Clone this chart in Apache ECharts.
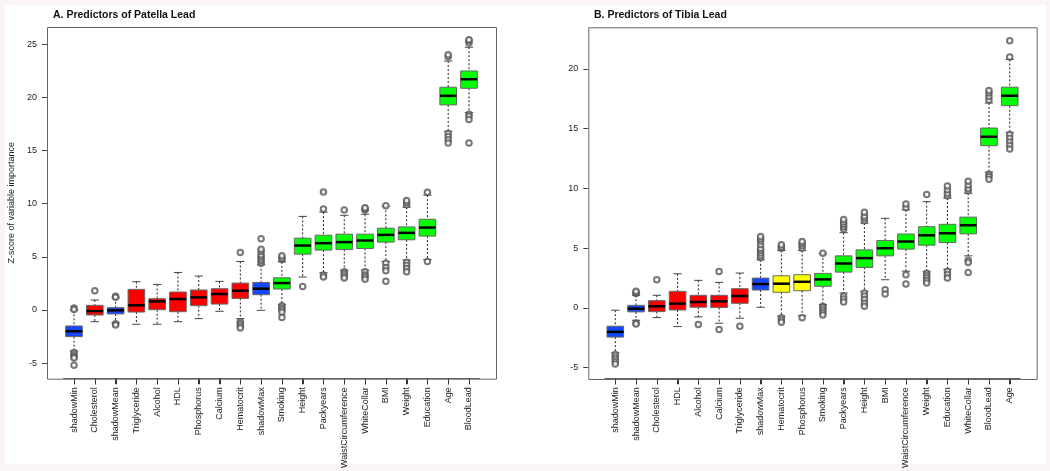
<!DOCTYPE html>
<html><head><meta charset="utf-8">
<script src="https://cdn.jsdelivr.net/npm/echarts@6/dist/echarts.min.js"></script>
<style>
html,body{margin:0;padding:0;background:#fbf4f4;width:1050px;height:471px;overflow:hidden}
#paper{position:absolute;left:5px;top:5px;width:1041px;height:459px;background:#fff}
#chart{position:absolute;left:0;top:0;width:1050px;height:471px}
</style></head>
<body><div id="paper"></div><div id="chart"></div>
<script>
// ---------- Panel A: Patella lead ----------
const catsA = ['shadowMin','Cholesterol','shadowMean','Triglyceride','Alcohol','HDL','Phosphorus','Calcium','Hematocrit','shadowMax','Smoking','Height','Packyears','WaistCircumference','WhiteCollar','BMI','Weight','Education','Age','BloodLead'];
const statusA = ['S','R','S','R','R','R','R','R','R','S','C','C','C','C','C','C','C','C','C','C'];
const lowA  = [-3.85,-1.1,-1.2,-1.34,-1.34,-1.1,-0.81,-0.12,-0.81,-0.03,0.53,3.1,3.5,3.75,3.75,4.56,4.7,4.75,16.8,18.56];
const q1A   = [-2.5,-0.47,-0.37,-0.19,0.03,-0.16,0.41,0.56,1.09,1.44,1.97,5.25,5.63,5.69,5.78,6.38,6.6,6.95,19.28,20.84];
const medA  = [-2.0,-0.1,-0.03,0.44,0.81,1.03,1.19,1.5,1.81,2.0,2.53,6.06,6.28,6.38,6.53,7.06,7.25,7.75,20.13,21.69];
const q3A   = [-1.5,0.44,0.22,1.94,1.06,1.69,1.88,2.0,2.53,2.59,3.03,6.75,7.03,7.13,7.13,7.69,7.81,8.53,20.94,22.47];
const highA = [-0.03,0.94,1.15,2.66,2.4,3.53,3.19,2.69,4.56,4.25,4.53,8.8,9.2,8.9,9.0,9.75,9.66,10.8,23.4,24.7];
const outA = [
  [0.2,0.05,-4.0,-4.2,-4.4,-4.5,-5.2],
  [1.8],
  [1.3,1.2,-1.3,-1.4],
  [],[],[],[],[],
  [5.4,-1.1,-1.3,-1.5,-1.7],
  [4.4,4.6,4.8,5.0,5.2,5.5,5.7,6.7],
  [4.75,4.9,5.1,0.4,0.2,0.0,-0.2,-0.7],
  [2.2],
  [9.5,11.1,3.3,3.1],
  [9.4,3.6,3.4,3.2,3.0],
  [9.4,9.5,9.6,3.6,3.3,3.1,2.9],
  [9.8,4.4,4.0,3.7,2.7],
  [9.9,10.1,10.3,4.5,4.2,3.9,3.6],
  [11.06,4.56],
  [23.8,24.0,16.6,16.3,16.0,15.7],
  [25.1,25.3,25.4,18.4,18.2,17.9,15.7]
];
const ticksA = [-5,0,5,10,15,20,25];
const rangeA = [-6.42, 26.6];

// ---------- Panel B: Tibia lead ----------
const catsB = ['shadowMin','shadowMean','Cholesterol','HDL','Alcohol','Calcium','Triglyceride','shadowMax','Hematocrit','Phosphorus','Smoking','Packyears','Height','BMI','WaistCircumference','Weight','Education','WhiteCollar','BloodLead','Age'];
const statusB = ['S','S','R','R','R','R','R','S','T','T','C','C','C','C','C','C','C','C','C','C'];
const lowB  = [-3.75,-1.03,-0.81,-1.56,-0.75,-1.28,-0.86,0.06,-0.69,-0.64,0.28,1.25,1.39,2.36,3.08,3.03,3.25,4.36,11.37,14.7];
const q1B   = [-2.44,-0.33,-0.31,-0.17,0.06,0.03,0.39,1.5,1.31,1.44,1.81,3.0,3.39,4.36,4.92,5.25,5.47,6.2,13.58,16.93];
const medB  = [-2.0,-0.06,0.14,0.36,0.5,0.56,1.0,2.0,2.03,2.19,2.39,3.72,4.17,5.0,5.56,6.08,6.25,6.92,14.33,17.76];
const q3B   = [-1.53,0.22,0.61,1.39,1.06,1.06,1.61,2.5,2.69,2.78,2.89,4.36,4.86,5.64,6.19,6.8,7.0,7.6,15.06,18.48];
const highB = [-0.19,1.06,1.06,2.86,2.31,2.14,2.92,4.03,4.81,4.81,4.53,6.3,7.1,7.5,8.2,8.9,9.2,9.6,17.15,20.8];
const outB = [
  [-3.9,-4.1,-4.3,-4.5,-4.7],
  [1.2,1.3,1.4,-1.25,-1.35],
  [2.36],
  [],
  [-1.39],
  [3.06,-1.81],
  [-1.53],
  [4.2,4.4,4.6,4.8,5.0,5.3,5.6,5.8,5.97],
  [5.0,5.1,5.28,-0.83,-1.0,-1.2],
  [5.0,5.2,5.4,5.56,-0.83],
  [4.58,0.14,0.0,-0.2,-0.4,-0.6],
  [6.6,6.8,7.0,7.2,7.4,0.97,0.75,0.5],
  [7.3,7.5,7.7,8.0,1.25,1.0,0.7,0.4,0.14],
  [1.53,1.17],
  [8.4,8.7,2.78,2.0],
  [9.5,2.9,2.7,2.5,2.3,2.08],
  [9.4,9.6,9.9,10.2,3.06,2.8,2.5],
  [9.8,10.0,10.3,10.6,4.0,3.8,2.97],
  [17.4,17.7,18.0,18.2,11.2,11.0,10.77],
  [21.0,22.37,14.5,14.2,13.9,13.6,13.3]
];
const ticksB = [-5,0,5,10,15,20];
const rangeB = [-5.89, 23.49];

const statusColor = {S:'#1447ff', R:'#ff0000', T:'#ffff00', C:'#00ff00'};
const FONT = '"Liberation Sans", Arial, sans-serif';

function boxRows(low,q1,med,q3,high){
  return low.map((v,i)=>[i,low[i],q1[i],med[i],q3[i],high[i]]);
}
function outData(out){
  const d=[]; out.forEach((arr,i)=>arr.forEach(v=>d.push([i,v]))); return d;
}
function tickRows(cats, yMin){
  return cats.map((c,i)=>[i, yMin]);
}
function renderBox(fills){
  return function(params, api){
    const i = api.value(0);
    const band = api.size([1,0])[0];
    const bw = band*0.8, cw = bw*0.5;
    const pLow = api.coord([i, api.value(1)]);
    const pQ1 = api.coord([i, api.value(2)]);
    const pMed = api.coord([i, api.value(3)]);
    const pQ3 = api.coord([i, api.value(4)]);
    const pHigh = api.coord([i, api.value(5)]);
    const x = pMed[0];
    const dash = {stroke:'#222', lineWidth:1, lineDash:[2,2]};
    const cap = {stroke:'#444', lineWidth:1};
    return {type:'group', children:[
      {type:'line', shape:{x1:x,y1:pHigh[1],x2:x,y2:pQ3[1]}, style:dash},
      {type:'line', shape:{x1:x,y1:pQ1[1],x2:x,y2:pLow[1]}, style:dash},
      {type:'line', shape:{x1:x-cw/2,y1:pHigh[1],x2:x+cw/2,y2:pHigh[1]}, style:cap},
      {type:'line', shape:{x1:x-cw/2,y1:pLow[1],x2:x+cw/2,y2:pLow[1]}, style:cap},
      {type:'rect', shape:{x:x-bw/2,y:pQ3[1],width:bw,height:pQ1[1]-pQ3[1]}, style:{fill:fills[i], stroke:'#666', lineWidth:1}},
      {type:'line', shape:{x1:x-bw/2,y1:pMed[1],x2:x+bw/2,y2:pMed[1]}, style:{stroke:'#000', lineWidth:2.5}}
    ]};
  };
}
function renderTick(params, api){
  const p = api.coord([api.value(0), api.value(1)]);
  const xt = Math.round(p[0]) + 0.5;
  return {type:'rect', shape:{x:xt-0.5, y:p[1], width:1, height:6}, style:{fill:'#333'}};
}

const frameA = {x:47, y:27, w:449, h:351.7};
const frameB = {x:588.3, y:27.3, w:448.4, h:351.7};
function gridFor(f){
  const u = f.w/21.6;
  return {left:f.x+0.8*u, top:f.y, width:20*u, height:f.h, containLabel:false};
}
const gA = gridFor(frameA), gB = gridFor(frameB);

function xAxisFor(cats, gi){
  return {type:'category', gridIndex:gi, data:cats, boundaryGap:true, position:'bottom',
    axisLine:{show:true, onZero:false, lineStyle:{color:'#666'}},
    axisTick:{show:true, inside:false, alignWithLabel:true, interval:0, length:6, lineStyle:{color:'#333', width:1}},
    axisLabel:{rotate:90, interval:0, fontSize:9, color:'#222', fontFamily:FONT, margin:9},
    splitLine:{show:false}};
}
function yAxisFor(range,ticks,gi,offset,name){
  return {type:'value', gridIndex:gi, min:range[0], max:range[1], offset:offset,
    axisLine:{show:false}, splitLine:{show:false},
    axisTick:{show:true, length:5, customValues:ticks, lineStyle:{color:'#444'}},
    axisLabel:{customValues:ticks, fontSize:9, color:'#222', fontFamily:FONT, margin:10},
    name:name, nameLocation:'middle', nameGap:31, nameRotate:90,
    nameTextStyle:{fontSize:9, color:'#222', fontFamily:FONT}};
}

const chart = echarts.init(document.getElementById('chart'), null, {renderer:'canvas'});
chart.setOption({
  backgroundColor:'transparent',
  animation:false,
  title:[
    {text:'A. Predictors of Patella Lead', left:48, top:5, textStyle:{fontSize:10.5, fontWeight:'bold', color:'#111', fontFamily:FONT}},
    {text:'B. Predictors of Tibia Lead', left:589, top:5, textStyle:{fontSize:10.5, fontWeight:'bold', color:'#111', fontFamily:FONT}}
  ],
  grid:[gA, gB],
  xAxis:[xAxisFor(catsA,0), xAxisFor(catsB,1)],
  yAxis:[
    yAxisFor(rangeA, ticksA, 0, gA.left-frameA.x, 'Z-score of variable importance'),
    yAxisFor(rangeB, ticksB, 1, gB.left-frameB.x, '')
  ],
  graphic:[
    {type:'rect', shape:{x:frameA.x+0.5, y:frameA.y+0.5, width:frameA.w, height:frameA.h}, style:{fill:'transparent', stroke:'#666', lineWidth:1}, z:10, silent:true},
    {type:'rect', shape:{x:frameB.x+0.5, y:frameB.y+0.5, width:frameB.w, height:frameB.h}, style:{fill:'transparent', stroke:'#666', lineWidth:1}, z:10, silent:true}
  ],
  series:[
    {type:'custom', xAxisIndex:0, yAxisIndex:0, clip:false, renderItem:renderBox(statusA.map(s=>statusColor[s])),
      data:boxRows(lowA,q1A,medA,q3A,highA), encode:{x:0, y:[1,2,3,4,5]}, z:2},
    {type:'custom', xAxisIndex:0, yAxisIndex:0, clip:false, renderItem:renderTick,
      data:tickRows(catsA, rangeA[0]), encode:{x:0, y:1}, z:4},
    {type:'scatter', xAxisIndex:0, yAxisIndex:0, data:outData(outA), symbol:'emptyCircle', symbolSize:5.5,
      itemStyle:{color:'#555', borderColor:'#555', borderWidth:0.7}, z:3},
    {type:'custom', xAxisIndex:1, yAxisIndex:1, clip:false, renderItem:renderBox(statusB.map(s=>statusColor[s])),
      data:boxRows(lowB,q1B,medB,q3B,highB), encode:{x:0, y:[1,2,3,4,5]}, z:2},
    {type:'custom', xAxisIndex:1, yAxisIndex:1, clip:false, renderItem:renderTick,
      data:tickRows(catsB, rangeB[0]), encode:{x:0, y:1}, z:4},
    {type:'scatter', xAxisIndex:1, yAxisIndex:1, data:outData(outB), symbol:'emptyCircle', symbolSize:5.5,
      itemStyle:{color:'#555', borderColor:'#555', borderWidth:0.7}, z:3}
  ]
});
</script></body></html>
